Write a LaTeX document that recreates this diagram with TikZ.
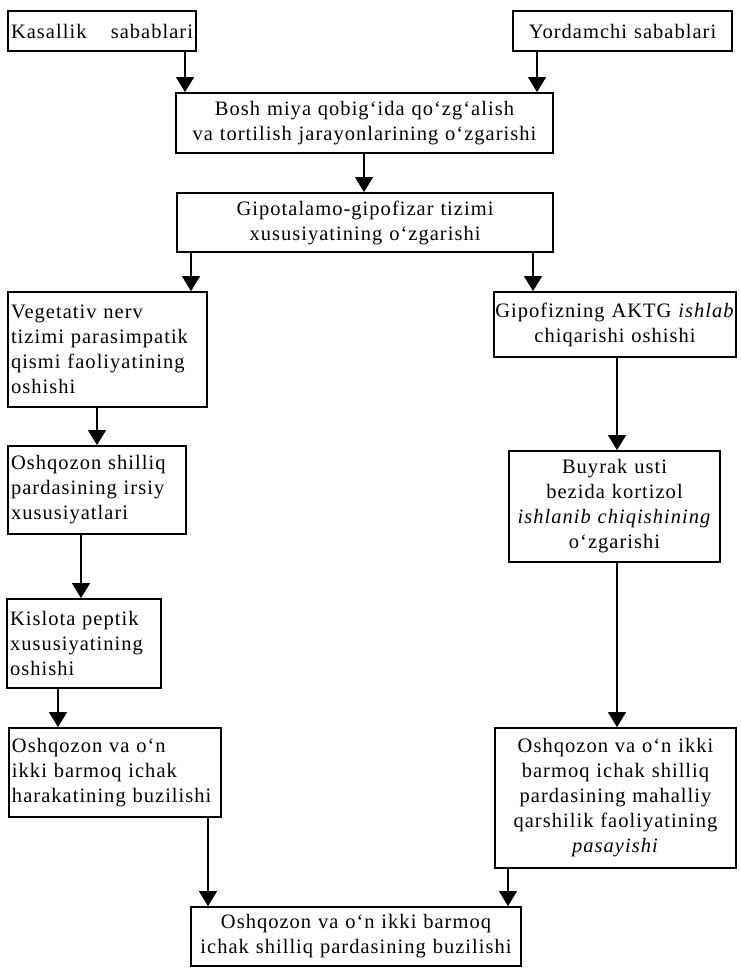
\documentclass[tikz,border=0pt]{standalone}
\usepackage{fontspec}
\setmainfont{Liberation Serif}[LetterSpace=5]
\usepackage{tikz}
\usetikzlibrary{
    arrows.meta,
    calc
}

\tikzset{
    box/.style={draw, line width=1.8pt, inner xsep=3pt, inner ysep=3pt,
        font=\fontsize{20.5}{25}\selectfont},
    lbox/.style={box, align=left},
    cbox/.style={box, align=center},
    flow/.style={line width=1.2pt, -{Triangle[length=15pt, width=18pt]}}
}

\begin{document}
\begin{tikzpicture}[x=1pt, y=-1pt]
                    \useasboundingbox (0,0) rectangle (740,968);

                    \node[lbox, text width=182pt, minimum height=40pt] (kas) at (102,31) {Kasallik\hfill sabablari};
                    \node[cbox, text width=213pt, minimum height=40pt] (yor) at (622.5,31) {Yordamchi sabablari};
                    \node[cbox, text width=371pt, minimum height=60pt] (bosh) at (364.5,123) {Bosh miya qobig‘ida qo‘zg‘alish\\va tortilish jarayonlarining o‘zgarishi};
                    \node[cbox, text width=370pt, minimum height=59pt] (gipo) at (365,222.5) {Gipotalamo-gipofizar tizimi\\xususiyatining o‘zgarishi};
                    \node[lbox, text width=193pt, minimum height=115pt] (veg) at (107.5,349.5) {Vegetativ nerv\\tizimi parasimpatik\\qismi faoliyatining\\oshishi};
                    \node[cbox, text width=236pt, minimum height=65pt] (aktg) at (615,324.5) {\makebox[\linewidth][c]{Gipofizning AKTG \textit{ishlab}}\\chiqarishi oshishi};
                    \node[lbox, text width=172pt, minimum height=88pt] (shil) at (97,490) {Oshqozon shilliq\\pardasining irsiy\\xususiyatlari};
                    \node[cbox, text width=205pt, minimum height=111pt] (buy) at (614.5,506.5) {Buyrak usti\\bezida kortizol\\\textit{ishlanib chiqishining}\\o‘zgarishi};
                    \node[lbox, text width=148pt, minimum height=89pt] (kis) at (84,643.5) {Kislota peptik\\xususiyatining\\oshishi};
                    \node[lbox, text width=206pt, minimum height=89pt] (harak) at (115,772.5) {Oshqozon va o‘n\\ikki barmoq ichak\\harakatining buzilishi};
                    \node[cbox, text width=235pt, minimum height=140pt] (qarsh) at (615.5,798) {Oshqozon va o‘n ikki\\barmoq ichak shilliq\\pardasining mahalliy\\qarshilik faoliyatining\\\textit{pasayishi}};
                    \node[cbox, text width=324pt, minimum height=59pt] (buz) at (356,936.5) {Oshqozon va o‘n ikki barmoq\\ichak shilliq pardasining buzilishi};

                    \draw[flow] (kas.south -| 185,0) -- (bosh.north -| 185,0);
                    \draw[flow] (yor.south -| 537,0) -- (bosh.north -| 537,0);
                    \draw[flow] (bosh.south -| 364,0) -- (gipo.north -| 364,0);
                    \draw[flow] (gipo.south -| 191,0) -- (veg.north -| 191,0);
                    \draw[flow] (gipo.south -| 533,0) -- (aktg.north -| 533,0);
                    \draw[flow] (veg.south -| 97,0) -- (shil.north -| 97,0);
                    \draw[flow] (aktg.south -| 617,0) -- (buy.north -| 617,0);
                    \draw[flow] (shil.south -| 81,0) -- (kis.north -| 81,0);
                    \draw[flow] (buy.south -| 617,0) -- (qarsh.north -| 617,0);
                    \draw[flow] (kis.south -| 58,0) -- (harak.north -| 58,0);
                    \draw[flow] (harak.south -| 208,0) -- (buz.north -| 208,0);
                    \draw[flow] (qarsh.south -| 508,0) -- (buz.north -| 508,0);
                \end{tikzpicture}
\end{document}
